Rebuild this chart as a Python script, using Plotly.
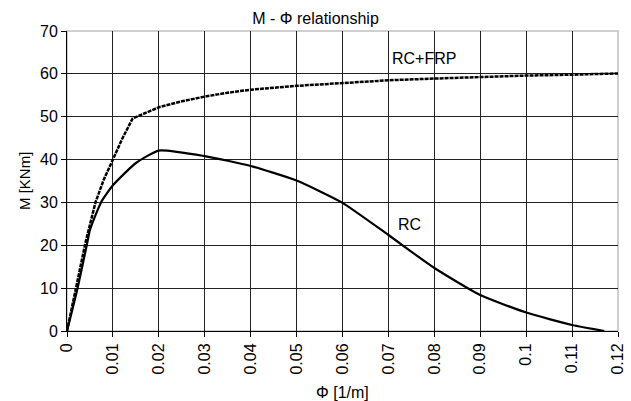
import plotly.graph_objects as go

# Data
phi_frp = [0, 0.002, 0.004, 0.0062, 0.008, 0.01, 0.012, 0.0143, 0.017, 0.02, 0.025, 0.03,
           0.035, 0.04, 0.05, 0.06, 0.07, 0.08, 0.09, 0.1, 0.11, 0.12]
m_frp = [0, 10, 20.5, 30, 35.3, 40, 44.8, 49.6, 50.9, 52.2, 53.6, 54.7,
         55.6, 56.3, 57.2, 57.9, 58.5, 58.9, 59.3, 59.6, 59.8, 60.1]

phi_rc = [0, 0.0023, 0.0043, 0.005, 0.0074, 0.01, 0.015, 0.02, 0.03, 0.04, 0.05, 0.06,
          0.07, 0.08, 0.09, 0.1, 0.11, 0.117]
m_rc = [0, 10, 20, 23.6, 30, 34, 39.2, 42.1, 40.8, 38.5, 35.1, 29.9,
        22.4, 14.7, 8.4, 4.3, 1.4, 0]

x_ticks = [0, 0.01, 0.02, 0.03, 0.04, 0.05, 0.06, 0.07, 0.08, 0.09, 0.1, 0.11, 0.12]
x_tick_labels = ["0", "0.01", "0.02", "0.03", "0.04", "0.05", "0.06", "0.07", "0.08",
                 "0.09", "0.1", "0.11", "0.12"]
y_ticks = [0, 10, 20, 30, 40, 50, 60, 70]

FONT = "Liberation Sans, Arial, sans-serif"

fig = go.Figure()
fig.add_trace(go.Scatter(x=phi_rc, y=m_rc, mode="lines",
                         line=dict(color="black", width=2.2, shape="spline", smoothing=0.5),
                         showlegend=False))
fig.add_trace(go.Scatter(x=phi_frp, y=m_frp, mode="lines",
                         line=dict(color="black", width=2.5, dash="4px,1px",
                                   shape="linear"),
                         showlegend=False))

fig.add_annotation(x=0.0777, y=63.6, text="RC+FRP", showarrow=False,
                   font=dict(family=FONT, size=16, color="black"))
fig.add_annotation(x=0.0746, y=24.8, text="RC", showarrow=False,
                   font=dict(family=FONT, size=16, color="black"))

# axis titles
fig.add_annotation(xref="paper", yref="paper", x=0.5, y=0, yanchor="middle", yshift=-61,
                   text="Φ [1/m]", showarrow=False,
                   font=dict(family=FONT, size=16, color="black"))
fig.add_annotation(xref="paper", yref="paper", x=0, y=0.5, xanchor="center", xshift=-43,
                   text="M [KNm]", textangle=-90, showarrow=False,
                   font=dict(family=FONT, size=15, color="black"))

# gray top/right frame
fig.add_shape(type="rect", xref="paper", yref="paper", x0=0, y0=0, x1=1, y1=1,
              line=dict(color="#c0c0c0", width=1.5), layer="below")

fig.update_layout(
    width=631, height=401,
    margin=dict(l=67, r=13, t=31, b=70),
    paper_bgcolor="white", plot_bgcolor="white",
    font=dict(family=FONT, size=16, color="black"),
    title=dict(text="M - Φ relationship", x=0.5, xref="container", xanchor="center",
               y=0.955, yref="container", yanchor="middle",
               font=dict(family=FONT, size=16, color="black")),
    xaxis=dict(range=[0, 0.12], tickvals=x_ticks, ticktext=x_tick_labels, tickangle=-90,
               showgrid=True, gridcolor="#222", gridwidth=1, automargin=False,
               showline=True, linecolor="black", linewidth=1,
               ticks="outside", ticklen=5, tickcolor="black", zeroline=False),
    yaxis=dict(range=[0, 70], tickvals=y_ticks, showgrid=True, gridcolor="#222", gridwidth=1,
               automargin=False,
               showline=True, linecolor="black", linewidth=1,
               ticks="outside", ticklen=5, tickcolor="black", zeroline=False),
)

fig.write_html("out.html")
